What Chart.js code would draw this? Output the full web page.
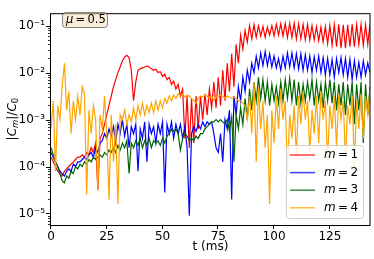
<!DOCTYPE html>
<html>
<head>
<meta charset="utf-8">
<script src="https://cdn.jsdelivr.net/npm/chart.js@4/dist/chart.umd.min.js"></script>
<style>
  html, body { margin: 0; padding: 0; background: #fff; }
  #wrap { width: 374px; height: 259px; }
</style>
</head>
<body>
<div id="wrap"><canvas id="modes"></canvas></div>
<script>
// time samples (ms), one per ms
const times = Array.from({ length: 144 }, (_, i) => i);

// log10(|C_m|/C_0), one value per ms
const m1Log = [
  -3.8, -3.9, -4.0, -4.1, -4.15, -4.2, -4.1, -4.05, -4.0, -3.95,
  -3.9, -3.85, -3.8, -3.8, -3.75, -3.8, -3.7, -3.75, -3.6, -3.7,
  -3.5, -4.5, -3.4, -3.3, -3.1, -2.9, -2.7, -2.5, -2.3, -2.15,
  -2.0, -1.88, -1.75, -1.67, -1.63, -1.68, -1.95, -2.6, -2.2, -1.95,
  -1.92, -1.9, -1.88, -1.86, -1.88, -1.92, -1.95, -1.93, -2.0, -1.98,
  -2.08, -2.03, -2.15, -2.1, -2.25, -2.18, -2.35, -2.25, -2.5, -2.35,
  -3.4, -2.5, -3.6, -2.55, -3.5, -2.5, -3.2, -2.5, -3.0, -2.45,
  -2.9, -2.35, -2.75, -2.2, -2.75, -2.1, -2.7, -1.95, -2.6, -1.8,
  -2.4, -1.6, -2.3, -1.4, -1.8, -1.2, -1.5, -1.1, -1.35, -1.0,
  -1.28, -0.98, -1.25, -1.0, -1.22, -1.02, -1.25, -1.03, -1.2, -1.0,
  -1.22, -0.97, -1.2, -0.96, -1.22, -0.95, -1.25, -0.95, -1.25, -0.95,
  -1.28, -0.96, -1.28, -0.97, -1.3, -0.98, -1.3, -1.0, -1.3, -1.02,
  -1.32, -1.03, -1.35, -1.02, -1.38, -1.0, -1.42, -0.98, -1.45, -0.97,
  -1.48, -0.98, -1.48, -0.98, -1.45, -0.97, -1.45, -0.98, -1.4, -0.97,
  -1.42, -0.98, -1.4, -0.97
];
const m2Log = [
  -3.7, -3.8, -3.9, -4.0, -4.1, -4.15, -4.2, -4.1, -4.05, -4.1,
  -3.95, -4.0, -3.9, -3.9, -3.85, -3.8, -3.85, -3.75, -3.7, -3.8,
  -3.6, -3.7, -3.5, -3.45, -3.3, -3.4, -3.2, -3.35, -3.15, -3.5,
  -3.1, -3.3, -3.0, -3.35, -3.1, -3.6, -3.15, -3.3, -3.1, -4.1,
  -3.2, -3.4, -3.05, -3.9, -3.1, -3.3, -3.15, -3.5, -3.1, -3.3,
  -3.05, -4.55, -3.1, -3.3, -3.05, -3.4, -3.1, -3.3, -3.1, -3.4,
  -3.15, -3.6, -5.05, -3.3, -3.15, -3.25, -3.1, -3.2, -3.05, -3.15,
  -3.05, -3.1, -3.05, -3.3, -3.6, -3.7, -3.3, -3.9, -3.0, -3.2,
  -2.8, -4.7, -2.5, -2.9, -2.3, -2.6, -2.1, -2.4, -1.95, -2.2,
  -1.8, -2.0, -1.65, -1.9, -1.58, -1.85, -1.55, -1.85, -1.6, -1.88,
  -1.65, -1.9, -1.7, -1.95, -1.65, -1.9, -1.58, -1.88, -1.58, -1.9,
  -1.6, -1.92, -1.6, -1.95, -1.62, -1.95, -1.65, -2.0, -1.66, -1.95,
  -1.65, -2.0, -1.68, -2.05, -1.7, -2.05, -1.72, -2.1, -1.7, -2.0,
  -1.68, -2.05, -1.7, -2.1, -1.72, -2.15, -1.75, -2.1, -1.78, -2.1,
  -1.75, -2.05, -1.8, -2.0
];
const m3Log = [
  -3.6, -3.75, -3.9, -4.0, -4.15, -4.3, -4.35, -4.2, -4.25, -4.1,
  -4.15, -4.0, -4.05, -3.95, -4.0, -3.9, -3.95, -3.85, -3.9, -3.8,
  -3.85, -3.8, -3.75, -3.8, -3.7, -3.75, -3.65, -3.7, -3.6, -3.7,
  -3.55, -3.65, -3.5, -3.6, -3.45, -4.15, -3.5, -3.6, -3.45, -3.55,
  -3.4, -3.6, -3.45, -3.55, -3.4, -3.6, -3.45, -3.5, -3.45, -3.55,
  -3.4, -3.5, -3.35, -3.3, -3.2, -3.25, -3.2, -3.3, -3.65, -3.4,
  -3.3, -3.35, -3.45, -3.4, -3.45, -3.35, -3.4, -3.3, -3.3, -3.2,
  -3.15, -3.1, -3.05, -3.05, -3.0, -3.05, -3.0, -3.05, -3.1, -3.0,
  -3.25, -2.95, -3.9, -2.9, -3.2, -2.75, -3.1, -2.55, -3.0, -2.35,
  -2.8, -2.2, -2.6, -2.1, -2.55, -2.15, -2.6, -2.2, -2.7, -2.25,
  -2.6, -2.3, -2.65, -2.2, -2.6, -2.15, -2.55, -2.12, -2.6, -2.15,
  -2.7, -2.2, -2.65, -2.25, -2.6, -2.2, -2.55, -2.15, -2.7, -2.2,
  -2.6, -2.25, -2.75, -2.2, -2.6, -2.15, -2.65, -2.2, -2.8, -2.25,
  -2.7, -2.2, -2.9, -2.25, -2.7, -2.2, -3.1, -2.25, -2.8, -2.2,
  -3.5, -2.25, -2.9, -2.3
];
const m4Log = [
  -3.2, -2.6, -4.1, -2.7, -3.0, -2.3, -1.8, -2.8, -2.4, -3.3,
  -2.6, -3.0, -2.5, -2.9, -2.3, -2.45, -4.6, -2.8, -3.3, -2.7,
  -3.0, -4.5, -2.9, -3.2, -2.5, -3.3, -4.7, -2.9, -3.9, -3.1,
  -4.8, -2.9, -3.0, -2.8, -3.1, -2.9, -3.05, -2.75, -3.0, -2.7,
  -2.9, -2.65, -2.9, -2.7, -2.85, -2.65, -2.85, -2.6, -2.8, -2.6,
  -2.75, -2.55, -2.65, -2.5, -2.6, -2.48, -2.55, -2.45, -2.5, -2.45,
  -2.52, -2.48, -2.5, -2.55, -2.6, -2.65, -2.55, -2.5, -2.52, -2.48,
  -2.5, -2.55, -2.5, -2.6, -2.52, -2.5, -2.48, -2.5, -2.55, -2.5,
  -2.52, -2.55, -2.52, -2.55, -2.6, -2.6, -2.65, -2.7, -3.0, -2.5,
  -3.3, -2.2, -3.9, -2.3, -3.2, -2.6, -3.6, -2.9, -4.8, -2.8,
  -3.5, -2.5, -3.2, -2.35, -3.0, -2.6, -4.1, -2.9, -3.4, -2.7,
  -3.8, -2.5, -3.1, -2.4, -3.0, -2.6, -3.7, -2.8, -3.3, -2.5,
  -3.5, -2.4, -3.0, -2.6, -3.9, -2.7, -3.2, -2.5, -3.6, -2.45,
  -3.0, -2.6, -3.8, -2.7, -3.1, -2.5, -4.0, -2.6, -3.2, -2.45,
  -3.4, -2.5, -2.9, -2.35
];

const seriesNames = ['1', '2', '3', '4'];
const seriesColors = ['#ff0000', '#0000ff', '#006400', '#ffa500'];
const xTicks = [0, 25, 50, 75, 100, 125];
const yExponents = [-5, -4, -3, -2, -1];
const supDigits = { '-': '\u207b', '1': '\u00b9', '2': '\u00b2', '3': '\u00b3', '4': '\u2074', '5': '\u2075' };

const FONT = '"DejaVu Sans", sans-serif';
const allLogs = [m1Log, m2Log, m3Log, m4Log];
const datasets = allLogs.map((arr, k) => ({
  label: 'm = ' + seriesNames[k],
  data: arr.map((v, i) => ({ x: times[i], y: Math.pow(10, v) })),
  borderColor: seriesColors[k],
  borderWidth: 1.2,
  pointRadius: 0,
  tension: 0,
  order: 4 - k,
}));

function drawPieces(ctx, pieces, x, y) {
  // pieces: [text, font, dy]
  let cx = x;
  for (const p of pieces) {
    ctx.font = p[1];
    ctx.fillText(p[0], cx, y + (p[2] || 0));
    cx += ctx.measureText(p[0]).width;
  }
  return cx;
}
function piecesWidth(ctx, pieces) {
  let w = 0;
  for (const p of pieces) { ctx.font = p[1]; w += ctx.measureText(p[0]).width; }
  return w;
}

const overlay = {
  id: 'overlay',
  afterDraw(chart) {
    const { ctx, chartArea: a, scales } = chart;
    const xs = scales.x, ys = scales.y;
    ctx.save();
    ctx.strokeStyle = '#000';
    ctx.lineWidth = 1;
    ctx.strokeRect(a.left - 0.5, a.top + 0.5, a.right - a.left + 0.5, a.bottom - a.top);

    // tick marks
    ctx.beginPath();
    for (const t of xTicks) {
      const px = Math.round(xs.getPixelForValue(t)) - 0.5;
      ctx.moveTo(px, a.bottom); ctx.lineTo(px, a.bottom + 4);
    }
    for (const e of yExponents) {
      const py = Math.round(ys.getPixelForValue(Math.pow(10, e))) + 0.5;
      ctx.moveTo(a.left - 1, py); ctx.lineTo(a.left - 5, py);
    }
    ctx.stroke();
    ctx.beginPath();
    for (let e = -6; e <= -1; e++) {
      for (let k = 2; k <= 9; k++) {
        const v = k * Math.pow(10, e);
        if (v < ys.min || v > ys.max) continue;
        const py = Math.round(ys.getPixelForValue(v)) + 0.5;
        ctx.moveTo(a.left - 1, py); ctx.lineTo(a.left - 3, py);
      }
    }
    ctx.lineWidth = 0.8;
    ctx.stroke();

    // mu annotation box
    ctx.beginPath();
    ctx.roundRect(62.5, 12.5, 45, 15, 3);
    ctx.fillStyle = 'rgba(245,222,179,0.5)';
    ctx.fill();
    ctx.strokeStyle = 'rgba(0,0,0,0.45)';
    ctx.lineWidth = 1;
    ctx.stroke();
    ctx.fillStyle = '#000';
    ctx.textBaseline = 'middle';
    drawPieces(ctx, [['\u03bc', 'italic 11.5px ' + FONT], ['\u2009=\u20090.5', '11.5px ' + FONT]], 66, 20.5);

    // legend
    ctx.beginPath();
    ctx.roundRect(286.5, 145.5, 77, 73, 3);
    ctx.fillStyle = 'rgba(255,255,255,0.8)';
    ctx.fill();
    ctx.strokeStyle = '#d0d0d0';
    ctx.stroke();
    seriesNames.forEach((n, k) => {
      const ly = 155 + k * 17.6;
      ctx.beginPath();
      ctx.moveTo(290, ly); ctx.lineTo(315, ly);
      ctx.strokeStyle = seriesColors[k];
      ctx.globalAlpha = 0.75;
      ctx.lineWidth = 1.5;
      ctx.stroke();
      ctx.globalAlpha = 1;
      ctx.fillStyle = '#000';
      drawPieces(ctx, [['m', 'italic 12px ' + FONT], ['\u2009=\u2009' + n, '12px ' + FONT]], 324, ly);
    });

    // axis titles
    ctx.fillStyle = '#000';
    ctx.font = '12px ' + FONT;
    ctx.textAlign = 'center';
    ctx.textBaseline = 'alphabetic';
    ctx.fillText('t (ms)', (a.left + a.right) / 2, 250);
    ctx.textAlign = 'left';

    ctx.translate(13, (a.top + a.bottom) / 2);
    ctx.rotate(-Math.PI / 2);
    ctx.textBaseline = 'middle';
    const yl = [
      ['|', '12px ' + FONT], ['C', 'italic 12px ' + FONT], ['m', 'italic 8.5px ' + FONT, 3],
      ['|/', '12px ' + FONT], ['C', 'italic 12px ' + FONT], ['0', '8.5px ' + FONT, 3],
    ];
    drawPieces(ctx, yl, -piecesWidth(ctx, yl) / 2, 0);
    ctx.restore();
  },
};

new Chart(document.getElementById('modes'), {
  type: 'line',
  data: { datasets },
  options: {
    responsive: true,
    maintainAspectRatio: false,
    animation: false,
    layout: { padding: { top: 4, right: 4, left: 0, bottom: 0 } },
    plugins: { legend: { display: false }, tooltip: { enabled: false } },
    scales: {
      x: {
        type: 'linear',
        min: 0,
        max: 143,
        afterBuildTicks: (s) => { s.ticks = xTicks.map(v => ({ value: v })); },
        afterFit: (s) => { s.height = 34; },
        grid: { display: false, drawTicks: false },
        border: { display: false },
        ticks: { color: '#000', padding: 5, maxRotation: 0, font: { family: FONT, size: 12 } },
      },
      y: {
        type: 'logarithmic',
        min: Math.pow(10, -5.245),
        max: Math.pow(10, -0.735),
        afterBuildTicks: (s) => { s.ticks = yExponents.map(e => ({ value: Math.pow(10, e) })); },
        afterFit: (s) => { s.width = 51; },
        grid: { display: false, drawTicks: false },
        border: { display: false },
        ticks: {
          color: '#000',
          padding: 6,
          font: { family: FONT, size: 12 },
          callback: (v) => '10' + String(Math.round(Math.log10(v))).split('').map(c => supDigits[c]).join(''),
        },
      },
    },
  },
  plugins: [overlay],
});
</script>
</body>
</html>
